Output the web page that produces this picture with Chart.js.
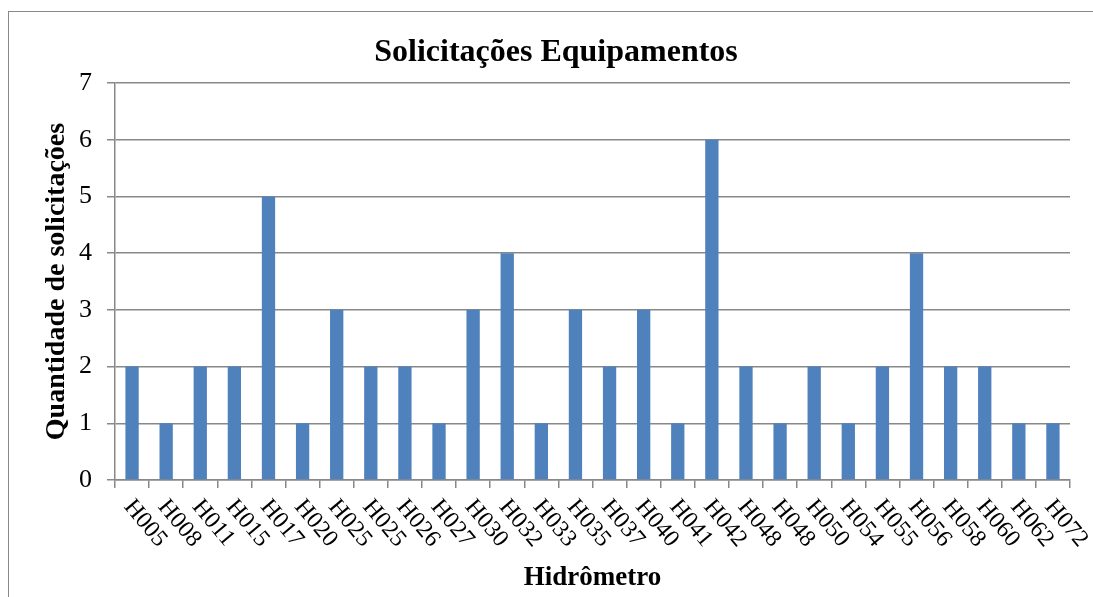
<!DOCTYPE html>
<html>
<head>
<meta charset="utf-8">
<script src="https://cdn.jsdelivr.net/npm/chart.js@4.4.0/dist/chart.umd.min.js"></script>
<style>
  html, body { margin: 0; padding: 0; background: #fff; }
  #wrap { width: 1093px; height: 597px; }
</style>
</head>
<body>
<div id="wrap"><canvas id="myChart" width="1093" height="597"></canvas></div>
<script>
const hidrometros = ["H005","H008","H011","H015","H017","H020","H025","H025","H026","H027",
    "H030","H032","H033","H035","H037","H040","H041","H042","H048","H048",
    "H050","H054","H055","H056","H058","H060","H062","H072"];
const solicitacoes = [2,1,2,2,5,1,3,2,2,1,
    3,4,1,3,2,3,1,6,2,1,
    2,1,2,4,2,2,1,1];
const yMin = 0, yMax = 7, yStep = 1;

const chartTitle = "Solicitações Equipamentos";
const xTitle = "Hidrômetro";
const yTitle = "Quantidade de solicitações";

const serif = "'Liberation Serif', 'Times New Roman', serif";
const gray = "#888888";

// moldura externa e título (centralizado na área do gráfico do Excel)
const framePlugin = {
    id: 'frame',
    beforeDraw(chart) {
        const ctx = chart.ctx;
        ctx.save();
        ctx.strokeStyle = gray;
        ctx.lineWidth = 1;
        ctx.strokeRect(8.5, 11.5, 1200, 700);
        ctx.restore();
    },
    afterDraw(chart) {
        const ctx = chart.ctx;
        ctx.save();
        ctx.font = "bold 32px " + serif;
        ctx.fillStyle = "#000";
        ctx.textAlign = "center";
        ctx.textBaseline = "alphabetic";
        ctx.fillText(chartTitle, 556, 61);
        ctx.restore();
    }
};

// rótulos do eixo x girados no sentido horário
const rotatedLabels = {
    id: 'rotatedLabels',
    afterDraw(chart) {
        const ctx = chart.ctx;
        const xs = chart.scales.x;
        ctx.save();
        ctx.font = "24px " + serif;
        ctx.fillStyle = "#000";
        ctx.textAlign = "left";
        ctx.textBaseline = "middle";
        xs.ticks.forEach((t, i) => {
            const x = xs.getPixelForTick(i);
            ctx.save();
            ctx.translate(x - 4, xs.top + 23);
            ctx.rotate(50 * Math.PI / 180);
            ctx.fillText(hidrometros[i], 0, 0);
            ctx.restore();
        });
        ctx.restore();
    }
};

function init(){
    const ctx = document.getElementById("myChart");
    const data = {
        labels: hidrometros,
        datasets: [{
            label: 'Solicitações',
            data: solicitacoes,
            backgroundColor: '#4F81BD',
            borderWidth: 0,
            barPercentage: 0.39,
            categoryPercentage: 1
        }]
    };
    const config = {
        type: 'bar',
        data: data,
        options: {
            responsive: false,
            animation: false,
            layout: { padding: { left: 8, right: 23, top: 83, bottom: 0 } },
            plugins: {
                legend: { display: false },
                tooltip: { enabled: false },
                title: { display: false }
            },
            scales: {
                x: {
                    grid: {
                        display: true,
                        offset: true,
                        drawOnChartArea: false,
                        drawTicks: true,
                        tickLength: 8,
                        color: gray,
                        lineWidth: 1.5
                    },
                    border: { display: true, color: gray, width: 1.5 },
                    ticks: { display: false },
                    title: {
                        display: true,
                        text: xTitle,
                        color: '#000',
                        font: { family: serif, size: 27, weight: 'bold' },
                        padding: { top: 0, bottom: 3 }
                    },
                    afterFit(scale) { scale.height = 117; }
                },
                y: {
                    min: yMin,
                    max: yMax,
                    ticks: {
                        stepSize: yStep,
                        color: '#000',
                        padding: 15,
                        font: { family: serif, size: 26 }
                    },
                    grid: {
                        color: gray,
                        lineWidth: 1.5,
                        tickLength: 8
                    },
                    border: { display: true, color: gray, width: 1.5 },
                    title: {
                        display: true,
                        text: yTitle,
                        color: '#000',
                        font: { family: serif, size: 28, weight: 'bold' },
                        padding: { top: 32, bottom: 0 }
                    },
                    afterFit(scale) { scale.width = 107; }
                }
            }
        },
        plugins: [framePlugin, rotatedLabels]
    };
    new Chart(ctx, config);
}

init();
</script>
</body>
</html>
